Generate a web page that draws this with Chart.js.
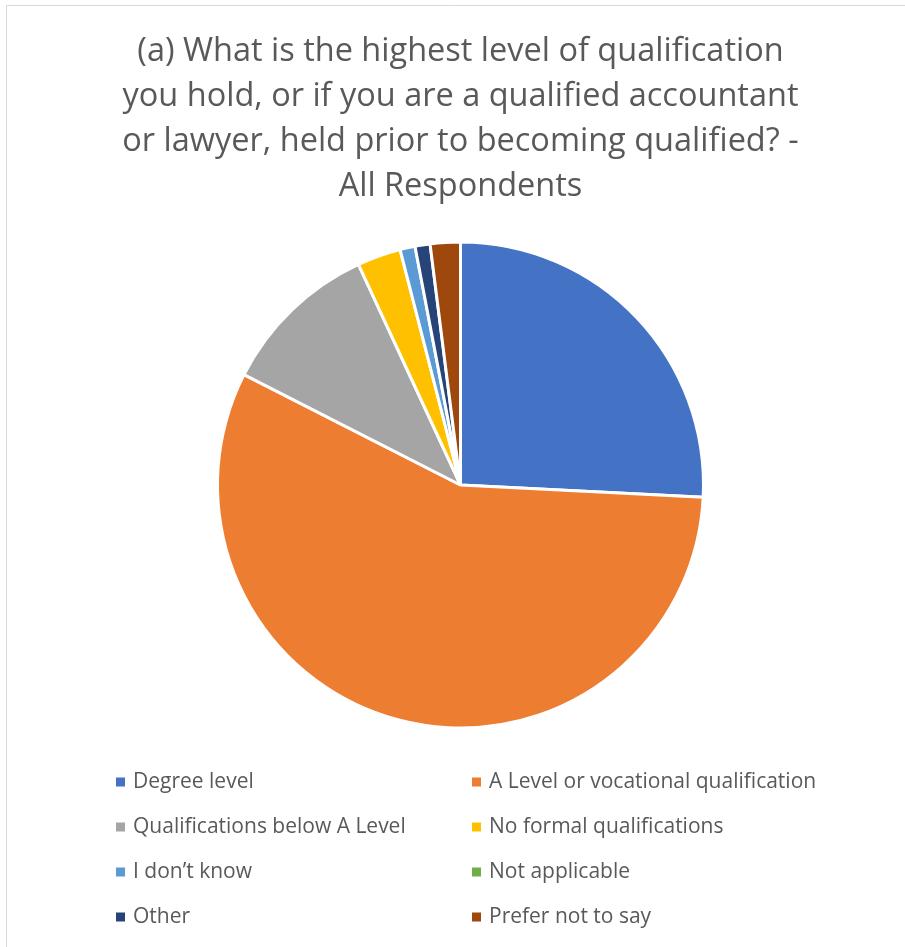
<!DOCTYPE html>
<html>
<head>
<meta charset="utf-8">
<script src="https://cdn.jsdelivr.net/npm/chart.js@4"></script>
<style>
  body { margin: 0; background: #fff; }
  #wrap { width: 905px; height: 947px; }
</style>
</head>
<body>
<div id="wrap"><canvas id="myChart" width="905" height="947"></canvas></div>
<script>
const titleLines = [
  "(a) What is the highest level of qualification",
  "you hold, or if you are a qualified accountant",
  "or lawyer, held prior to becoming qualified? -",
  "All Respondents"
];
const categories = [
  "Degree level",
  "A Level or vocational qualification",
  "Qualifications below A Level",
  "No formal qualifications",
  "I don\u2019t know",
  "Not applicable",
  "Other",
  "Prefer not to say"
];
// share of respondents, %
const shares = [25.8, 56.7, 10.6, 2.9, 1.0, 0, 1.0, 2.0];
const colors = ["#4472C4", "#ED7D31", "#A5A5A5", "#FFC000", "#5B9BD5", "#70AD47", "#264478", "#9E480E"];

const FONT = "'Open Sans', sans-serif";

// two-column legend like the Excel one
const gridLegend = {
  id: "gridLegend",
  afterDraw(chart) {
    const ctx = chart.ctx;
    ctx.save();
    // chart frame
    ctx.strokeStyle = "#d9d9d9";
    ctx.lineWidth = 1;
    ctx.beginPath();
    ctx.moveTo(6.5, 947);
    ctx.lineTo(6.5, 5.5);
    ctx.lineTo(905, 5.5);
    ctx.stroke();

    ctx.font = "21px " + FONT;
    ctx.textBaseline = "middle";
    chart.data.labels.forEach((lab, i) => {
      const col = i % 2, row = Math.floor(i / 2);
      const x = col === 0 ? 116 : 472;
      const y = 782 + row * 45;
      ctx.fillStyle = colors[i];
      ctx.fillRect(x, y - 4.5, 9, 9);
      ctx.fillStyle = "#595959";
      ctx.fillText(lab, x + 17, y);
    });
    ctx.restore();
  }
};

new Chart(document.getElementById("myChart"), {
  type: "pie",
  data: {
    labels: categories,
    datasets: [{
      data: shares,
      backgroundColor: colors,
      borderColor: "#ffffff",
      borderWidth: 3,
      radius: 243
    }]
  },
  options: {
    responsive: false,
    animation: false,
    layout: { padding: { top: 0, bottom: 219, left: 16, right: 0 } },
    plugins: {
      legend: { display: false },
      tooltip: { enabled: false },
      title: {
        display: true,
        text: titleLines,
        color: "#595959",
        font: { family: FONT, size: 32.5, weight: "normal", lineHeight: 45 / 32.5 },
        padding: { top: 29, bottom: 33 }
      }
    }
  },
  plugins: [gridLegend]
});
</script>
</body>
</html>
